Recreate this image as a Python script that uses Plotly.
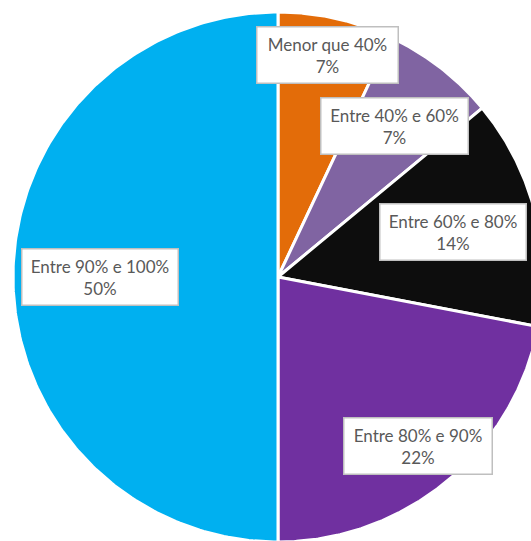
import numpy as np
import plotly.graph_objects as go

# Share of cases per accuracy band
categories = ["Menor que 40%", "Entre 40% e 60%", "Entre 60% e 80%",
              "Entre 80% e 90%", "Entre 90% e 100%"]
shares = [7, 7, 14, 22, 50]
colors = ["#E36C09", "#8064A2", "#0D0D0D", "#7030A0", "#00B0F0"]
# radial position of each label box (fraction of the radius) and box widths
label_r = [0.86, 0.72, 0.68, 0.83, 0.67]
box_w = [128, 134, 133, 135, 143]

fig = go.Figure()

total = sum(shares)
start = 0.0
for name, val, col, lr, bw in zip(categories, shares, colors, label_r, box_w):
    a0 = start / total * 2 * np.pi
    a1 = (start + val) / total * 2 * np.pi
    # wedge drawn clockwise from 12 o'clock
    th = np.linspace(a0, a1, 200)
    xs = np.concatenate([[0], np.sin(th), [0]])
    ys = np.concatenate([[0], np.cos(th), [0]])
    fig.add_trace(go.Scatter(
        x=xs, y=ys, mode="lines", fill="toself", fillcolor=col,
        line=dict(color="white", width=3), name=name,
        hoverinfo="text", text=f"{name}: {val}%", showlegend=False,
    ))
    mid = (a0 + a1) / 2
    fig.add_annotation(
        x=lr * np.sin(mid), y=lr * np.cos(mid), xref="x", yref="y",
        text=f"{name}<br>{val}%", showarrow=False, width=bw,
        font=dict(family="Lato", size=17, color="#595959"),
        bgcolor="white", bordercolor="#BFBFBF", borderwidth=1.5, borderpad=6,
    )
    start += val

R = 265.0
cx, cy = 278.0, 277.0
W, H = 531, 541
fig.update_xaxes(range=[-cx / R, (W - cx) / R], visible=False)
fig.update_yaxes(range=[-(H - cy) / R, cy / R], visible=False)
fig.update_layout(
    width=W, height=H, margin=dict(l=0, r=0, t=0, b=0),
    paper_bgcolor="white", plot_bgcolor="white",
)
fig.write_html("out.html")
